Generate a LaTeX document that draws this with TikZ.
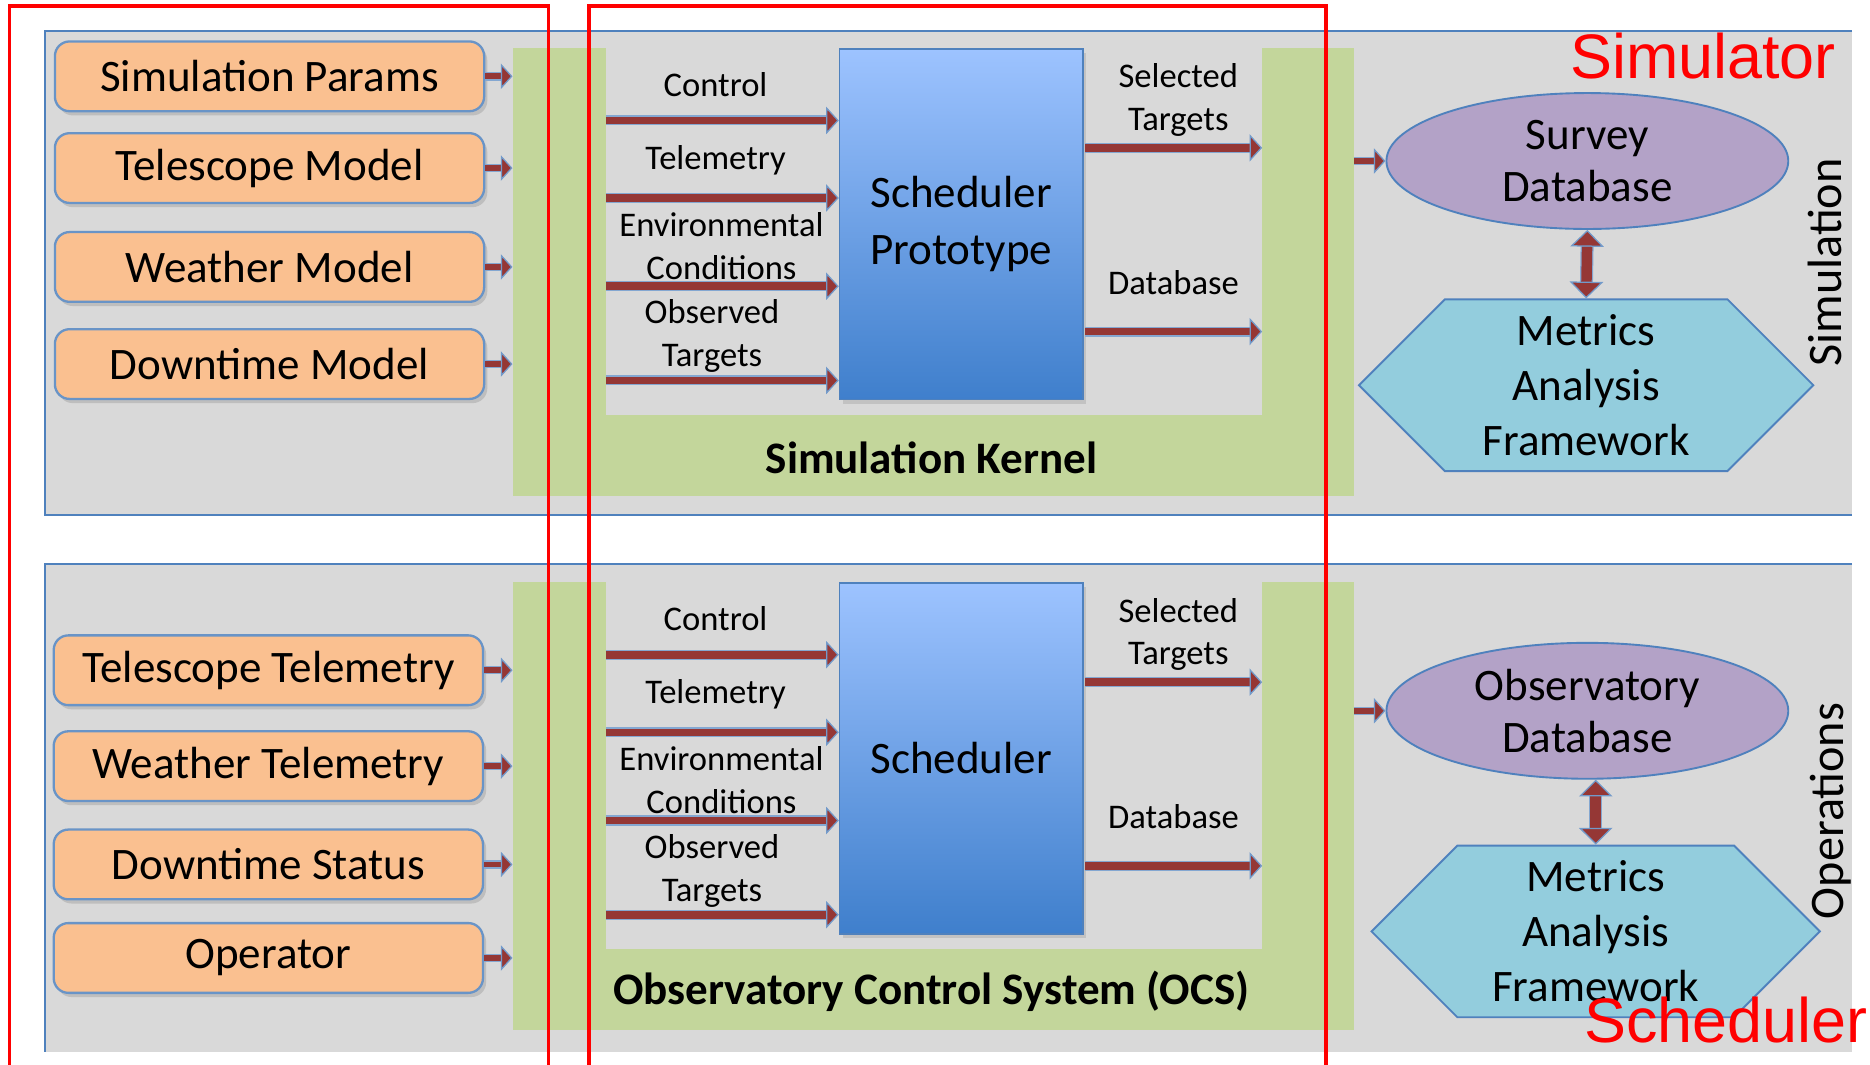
\documentclass[tikz,border=0pt]{standalone}
\usepackage{fontspec}
\setmainfont{Carlito}
\newfontfamily\arialfont{Liberation Sans}
\usetikzlibrary{shapes.geometric, shapes.symbols, arrows.meta, positioning, calc, shadows}

\definecolor{panelgray}{HTML}{D9D9D9}
\definecolor{edgeblue}{HTML}{4F81BD}
\definecolor{boxorange}{HTML}{FAC090}
\definecolor{kernelgreen}{HTML}{C3D69B}
\definecolor{arrowred}{HTML}{953735}
\definecolor{schedtop}{HTML}{9DC3FF}
\definecolor{schedbot}{HTML}{3F7FCC}
\definecolor{dbpurple}{HTML}{B3A2C7}
\definecolor{hexblue}{HTML}{93CDDD}

\begin{document}
\begin{tikzpicture}[
    x=0.02cm, y=-0.02cm,
    font=\fontsize{16.5}{20.5}\selectfont,
    input/.style={draw=edgeblue!85, line width=1.1pt, fill=boxorange, rounded corners=7pt, minimum width=7.2cm, minimum height=1.17cm, inner sep=0pt, font=\fontsize{21.5}{26}\selectfont, drop shadow={shadow xshift=1.5pt, shadow yshift=-2pt, opacity=0.3}},
    kernelbox/.style={fill=kernelgreen, inner sep=0pt, minimum width=14.1cm, minimum height=7.52cm},
    kernelgap/.style={fill=panelgray, inner sep=0pt, minimum width=11cm, minimum height=6.16cm},
    core/.style={draw=edgeblue, line width=0.8pt, top color=schedtop, bottom color=schedbot, minimum width=4.08cm, minimum height=5.88cm, inner sep=0pt, align=center, font=\fontsize{21.5}{27.3}\selectfont, drop shadow={shadow xshift=1.5pt, shadow yshift=-2pt, opacity=0.25}},
    store/.style={ellipse, draw=edgeblue, line width=0.9pt, fill=dbpurple, minimum width=6.74cm, minimum height=2.28cm, inner sep=0pt, align=center, font=\fontsize{21.5}{25}\selectfont},
    metric/.style={signal, signal to=west and east, signal pointer angle=90, draw=edgeblue, line width=0.9pt, fill=hexblue, minimum width=7.62cm, minimum height=2.88cm, inner sep=0pt, align=center, font=\fontsize{21.5}{26.2}\selectfont},
    lbl/.style={align=center, inner sep=0pt},
    title/.style={inner sep=0pt, font=\fontsize{21.5}{26}\selectfont\bfseries},
    side/.style={rotate=90, inner sep=0pt, font=\fontsize{23}{28}\selectfont},
    tag/.style={inner sep=0pt, text=red, font=\arialfont\fontsize{30}{36}\selectfont},
    redline/.style={draw=red, line width=1.8pt},
    feed/.style={-{Triangle[length=5.5pt, width=12pt, color=edgeblue!80, fill=arrowred, line width=0.6pt]}, line width=2.8pt, arrowred, preaction={draw=edgeblue!70, line width=4pt, -, shorten >=5pt}},
    flow/.style={-{Triangle[length=6pt, width=13pt, color=edgeblue!80, fill=arrowred, line width=0.6pt]}, line width=3.6pt, arrowred, preaction={draw=edgeblue!70, line width=4.8pt, -, shorten >=5.5pt}},
    link/.style={{Triangle[length=8pt, width=16pt, color=edgeblue!80, fill=arrowred, line width=0.6pt]}-{Triangle[length=8pt, width=16pt, color=edgeblue!80, fill=arrowred, line width=0.6pt]}, line width=5pt, arrowred, preaction={draw=edgeblue!70, line width=6.2pt, -, shorten >=7.5pt, shorten <=7.5pt}}
  ]
    \useasboundingbox (0,0) rectangle (1568,893);
    % simulation panel
    \fill[panelgray] (38,26) rectangle (1553,432);
    \draw[edgeblue, line width=1pt] (1553,26) -- (38,26) -- (38,432) -- (1553,432);
    \node[input] (sp) at (226,64) {Simulation Params};
    \node[input, below=0.33cm of sp] (tm) {Telescope Model};
    \node[input, below=0.45cm of tm] (wm) {Weather Model};
    \node[input, below=0.42cm of wm] (dm) {Downtime Model};
    \node[kernelbox] (kern) at (782.5,228) {};
    \node[kernelgap] (kgap) at (783,194) {};
    \node[title] (kname) at (781,384) {Simulation Kernel};
    \node[core] (proto) at (806,188) {Scheduler\\Prototype};
    \node[lbl] (lctl) at (600,71) {Control};
    \node[lbl] (ltel) at (600,134) {Telemetry};
    \node[lbl] (lenv) at (605,206) {Environmental\\Conditions};
    \node[lbl] (lobs) at (597,282) {Observed\\Targets};
    \node[lbl] (lsel) at (988,84) {Selected\\Targets};
    \node[lbl] (ldb) at (984,237) {Database};
    \node[store] (sdb) at (1331,135) {Survey\\Database};
    \node[metric] (mafw) at (1330,323) {Metrics\\Analysis\\Framework};
    \node[side] (lsim) at (1530,220) {Simulation};
    \coordinate (a1) at (508,101);
    \coordinate (a2) at (508,166);
    \coordinate (a3) at (508,240);
    \coordinate (a4) at (508,319);
    \coordinate (b1) at (910,124);
    \coordinate (b2) at (910,278);
    \draw[feed] (sp.east) -- (sp.east -| kern.west);
    \draw[feed] (tm.east) -- (tm.east -| kern.west);
    \draw[feed] (wm.east) -- (wm.east -| kern.west);
    \draw[feed] (dm.east) -- (dm.east -| kern.west);
    \draw[flow] (a1) -- (a1 -| proto.west);
    \draw[flow] (a2) -- (a2 -| proto.west);
    \draw[flow] (a3) -- (a3 -| proto.west);
    \draw[flow] (a4) -- (a4 -| proto.west);
    \draw[flow] (b1) -- (b1 -| kgap.east);
    \draw[flow] (b2) -- (b2 -| kgap.east);
    \draw[feed] (kern.east |- sdb.west) -- (sdb.west);
    \draw[link] (sdb.south) -- (mafw.north);
    % operations panel
    \fill[panelgray] (38,473) rectangle (1553,882);
    \draw[edgeblue, line width=1pt] (1553,473) -- (38,473) -- (38,882);
    \node[input] (tt) at (225,562) {Telescope Telemetry};
    \node[input, below=0.40cm of tt] (wt) {Weather Telemetry};
    \node[input, below=0.44cm of wt] (ds) {Downtime Status};
    \node[input, below=0.36cm of ds] (op) {Operator};
    \node[kernelbox] (ocs) at (782.5,676) {};
    \node[kernelgap] (ogap) at (783,642) {};
    \node[title] (oname) at (781,831) {Observatory Control System (OCS)};
    \node[core] (sch) at (806,636) {Scheduler};
    \node[lbl] (mctl) at (600,519) {Control};
    \node[lbl] (mtel) at (600,582) {Telemetry};
    \node[lbl] (menv) at (605,654) {Environmental\\Conditions};
    \node[lbl] (mobs) at (597,730) {Observed\\Targets};
    \node[lbl] (msel) at (988,532) {Selected\\Targets};
    \node[lbl] (mdb) at (984,685) {Database};
    \node[store] (odb) at (1331,596) {Observatory\\Database};
    \node[metric, minimum width=7.52cm] (mafo) at (1338,781) {Metrics\\Analysis\\Framework};
    \node[side] (lops) at (1535,680) {Operations};
    \coordinate (c1) at (508,549);
    \coordinate (c2) at (508,614);
    \coordinate (c3) at (508,688);
    \coordinate (c4) at (508,767);
    \coordinate (d1) at (910,572);
    \coordinate (d2) at (910,726);
    \draw[feed] (tt.east) -- (tt.east -| ocs.west);
    \draw[feed] (wt.east) -- (wt.east -| ocs.west);
    \draw[feed] (ds.east) -- (ds.east -| ocs.west);
    \draw[feed] (op.east) -- (op.east -| ocs.west);
    \draw[flow] (c1) -- (c1 -| sch.west);
    \draw[flow] (c2) -- (c2 -| sch.west);
    \draw[flow] (c3) -- (c3 -| sch.west);
    \draw[flow] (c4) -- (c4 -| sch.west);
    \draw[flow] (d1) -- (d1 -| ogap.east);
    \draw[flow] (d2) -- (d2 -| ogap.east);
    \draw[feed] (ocs.east |- odb.west) -- (odb.west);
    \draw[link] (mafo.north |- odb.south) -- (mafo.north);
    % red overlays
    \draw[redline] (8,960) -- (8,5) -- (460,5) -- (460,960);
    \draw[redline] (494,960) -- (494,5) -- (1112,5) -- (1112,960);
    \node[tag] (tsim) at (1428,47) {Simulator};
    \node[tag, anchor=west] (tsch) at (1328,855) {Scheduler};
  \end{tikzpicture}
\end{document}
